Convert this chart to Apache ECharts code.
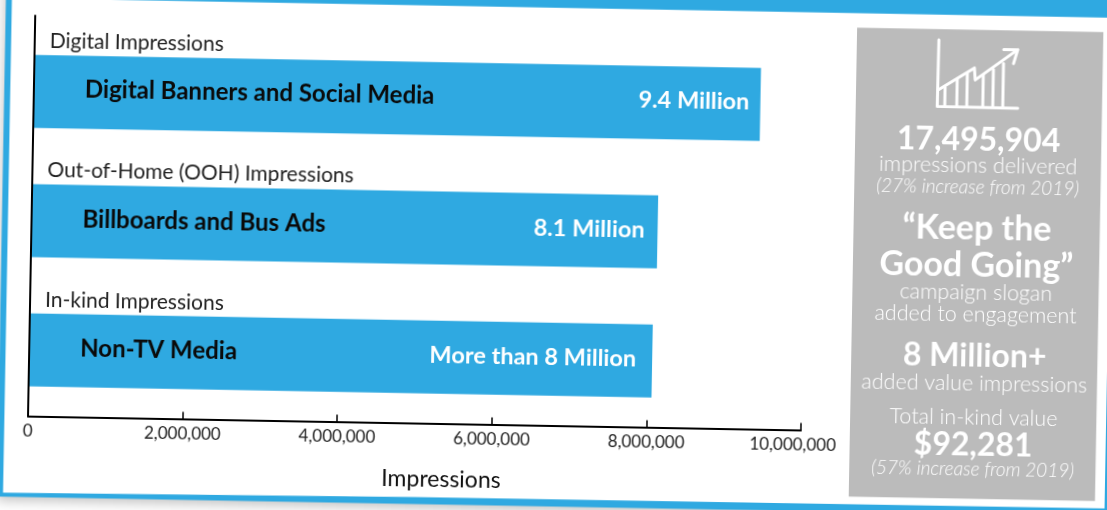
<!DOCTYPE html>
<html>
<head>
<meta charset="utf-8">
<style>
  html, body { margin: 0; padding: 0; width: 1107px; height: 510px; overflow: hidden; background: #fff; }
  /* The whole sheet sits slightly askew on the page */
  #sheet { position: absolute; left: -30px; top: -30px; width: 1167px; height: 570px; transform: rotate(1.03deg); transform-origin: center center; }
</style>
</head>
<body>
<div id="sheet"></div>
<script src="https://cdn.jsdelivr.net/npm/echarts@6/dist/echarts.min.js"></script>
<script>
const groupTitles = ['Digital Impressions', 'Out-of-Home (OOH) Impressions', 'In-kind Impressions'];
const mediaNames = ['Digital Banners and Social Media', 'Billboards and Bus Ads', 'Non-TV Media'];
const impressions = [9400000, 8100000, 8060000];
const valueLabels = ['9.4 Million', '8.1 Million', 'More than 8 Million'];
const axisName = 'Impressions';
const xMax = 10000000;
const xStep = 2000000;

const panelLines = [
  { text: '17,495,904', kind: 'big' },
  { text: 'impressions delivered', kind: 'plain' },
  { text: '(27% increase from 2019)', kind: 'note' },
  { text: '\u201CKeep the', kind: 'slogan' },
  { text: 'Good Going\u201D', kind: 'slogan' },
  { text: 'campaign slogan', kind: 'plain' },
  { text: 'added to engagement', kind: 'plain' },
  { text: '8 Million+', kind: 'big' },
  { text: 'added value impressions', kind: 'plain' },
  { text: 'Total in-kind value', kind: 'plain' },
  { text: '$92,281', kind: 'big' },
  { text: '(57% increase from 2019)', kind: 'note' }
];
const panelLineY = [132.5, 158.5, 179.5, 221, 258, 285.5, 307.5, 349, 376.5, 410.5, 438, 461.5];

const FONT = 'Lato, "Noto Sans", sans-serif';
const BLUE = '#2fa9e1';
const PAD = 30;           // canvas overhang so the rotated sheet still fills the window
const P = (x, y) => [x + PAD, y + PAD];

const panelStyles = {
  big:    { fontSize: 32, fontWeight: 700, fontStyle: 'normal', fill: '#ffffff' },
  slogan: { fontSize: 34, fontWeight: 700, fontStyle: 'normal', fill: '#ffffff' },
  plain:  { fontSize: 21.5, fontWeight: 300, fontStyle: 'normal', fill: '#ffffff' },
  note:   { fontSize: 19, fontWeight: 300, fontStyle: 'italic', fill: '#ffffff' }
};

const panelText = panelLines.map((line, i) => ({
  type: 'text',
  x: 976.5 + PAD,
  y: panelLineY[i] + PAD,
  z: 5,
  style: Object.assign({ text: line.text, fontFamily: FONT, textAlign: 'center', textVerticalAlign: 'middle' }, panelStyles[line.kind])
}));

// Small rising-chart pictogram at the top of the side panel
const iconStroke = { stroke: '#ffffff', lineWidth: 3, fill: null, lineCap: 'round', lineJoin: 'round' };
const iconPaths = [
  [[935, 33], [934.5, 99.5], [1015, 100]],
  [[936, 82.4], [971, 60.4], [972, 72.4], [1014, 41.4]],
  [[1000, 41.4], [1014, 41.4], [1010, 55.4]],
  [[942, 80.4], [942, 99]], [[954, 72.4], [954, 99]], [[964, 66.4], [964, 99]],
  [[980, 67.4], [980, 99]], [[990, 61.4], [990, 99]], [[1000, 55.4], [1000, 99]]
];
const iconShapes = iconPaths.map(pts => ({
  type: 'polyline', z: 5,
  shape: { points: pts.map(p => P(p[0], p[1])) },
  style: iconStroke
}));

const sheetFrame = [
  {
    type: 'rect', z: -3,
    shape: { x: 1.4 + PAD, y: -40 + PAD, width: 1150, height: 546.5 },
    style: { fill: BLUE, shadowBlur: 12, shadowColor: 'rgba(0,0,0,0.25)', shadowOffsetY: 3 }
  },
  {
    type: 'polygon', z: -2,
    shape: { points: [P(7.4, 7.8), P(1109, 7.8), P(1109, 498.5), P(420, 499.5), P(7.4, 502.5)] },
    style: { fill: '#ffffff' }
  },
  {
    type: 'rect', z: -1,
    shape: { x: 853 + PAD, y: 22.3 + PAD, width: 246.3, height: 469 },
    style: { fill: '#bbbbbb' }
  }
];

// Gap between each value label and the end of its bar
const valueLabelGaps = [11, 13, 16];

const chart = echarts.init(document.getElementById('sheet'));
chart.setOption({
  animation: false,
  backgroundColor: '#ffffff',
  textStyle: { fontFamily: FONT },
  graphic: { elements: sheetFrame.concat(iconShapes, panelText) },
  grid: [
    // bars
    { left: 31 + PAD, width: 773, top: 36 + PAD, height: 388 },
    // axis frame, a little taller than the bar band
    { left: 31 + PAD, width: 773, top: 25 + PAD, height: 400.5 }
  ],
  xAxis: [
    { gridIndex: 0, type: 'value', min: 0, max: xMax, interval: xStep, show: false },
    {
      gridIndex: 1, type: 'value', min: 0, max: xMax, interval: xStep, z: 6,
      splitLine: { show: false },
      axisLine: { show: true, lineStyle: { color: '#000', width: 2 } },
      axisTick: { show: true, inside: true, length: 7, lineStyle: { color: '#000', width: 1.5 } },
      axisLabel: {
        color: '#222', fontSize: 17, fontFamily: FONT, margin: 7, showMinLabel: true, showMaxLabel: true,
        formatter: v => v === xMax ? '{last|' + v.toLocaleString('en-US') + '}' : v.toLocaleString('en-US'),
        rich: { last: { color: '#222', fontSize: 17, fontFamily: FONT, padding: [0, 16, 0, 0] } }
      },
      name: axisName, nameLocation: 'middle', nameGap: 45,
      nameTextStyle: { color: '#111', fontSize: 23, fontFamily: FONT, padding: [0, 0, 0, 55] }
    }
  ],
  yAxis: [
    {
      gridIndex: 0, type: 'category', inverse: true, data: groupTitles, z: 6,
      axisLine: { show: false }, axisTick: { show: false },
      axisLabel: {
        inside: true, margin: 15, color: '#222', fontSize: 21, fontFamily: FONT, align: 'left',
        verticalAlign: 'bottom', padding: [0, 0, 40, 0]
      }
    },
    {
      gridIndex: 1, type: 'value', min: 0, max: 1, z: 6,
      axisLine: { show: true, lineStyle: { color: '#000', width: 2 } },
      axisTick: { show: false }, axisLabel: { show: false }, splitLine: { show: false }
    }
  ],
  series: [
    {
      type: 'bar', xAxisIndex: 0, yAxisIndex: 0, barWidth: 73, z: 3,
      itemStyle: { color: BLUE },
      data: impressions.map((v, i) => ({ value: v, label: { formatter: mediaNames[i] } })),
      label: { show: true, position: 'insideLeft', distance: 51, offset: [0, -2], color: '#0a0a0a', fontSize: 24, fontWeight: 700, fontFamily: FONT }
    },
    {
      type: 'bar', xAxisIndex: 0, yAxisIndex: 0, barWidth: 73, barGap: '-100%', z: 4,
      itemStyle: { color: 'rgba(0,0,0,0)' },
      data: impressions.map((v, i) => ({ value: v, label: { formatter: valueLabels[i], distance: valueLabelGaps[i] } })),
      label: { show: true, position: 'insideRight', offset: [0, -2], color: '#fff', fontSize: 23.5, fontWeight: 700, fontFamily: FONT }
    }
  ]
});
</script>
</body>
</html>
